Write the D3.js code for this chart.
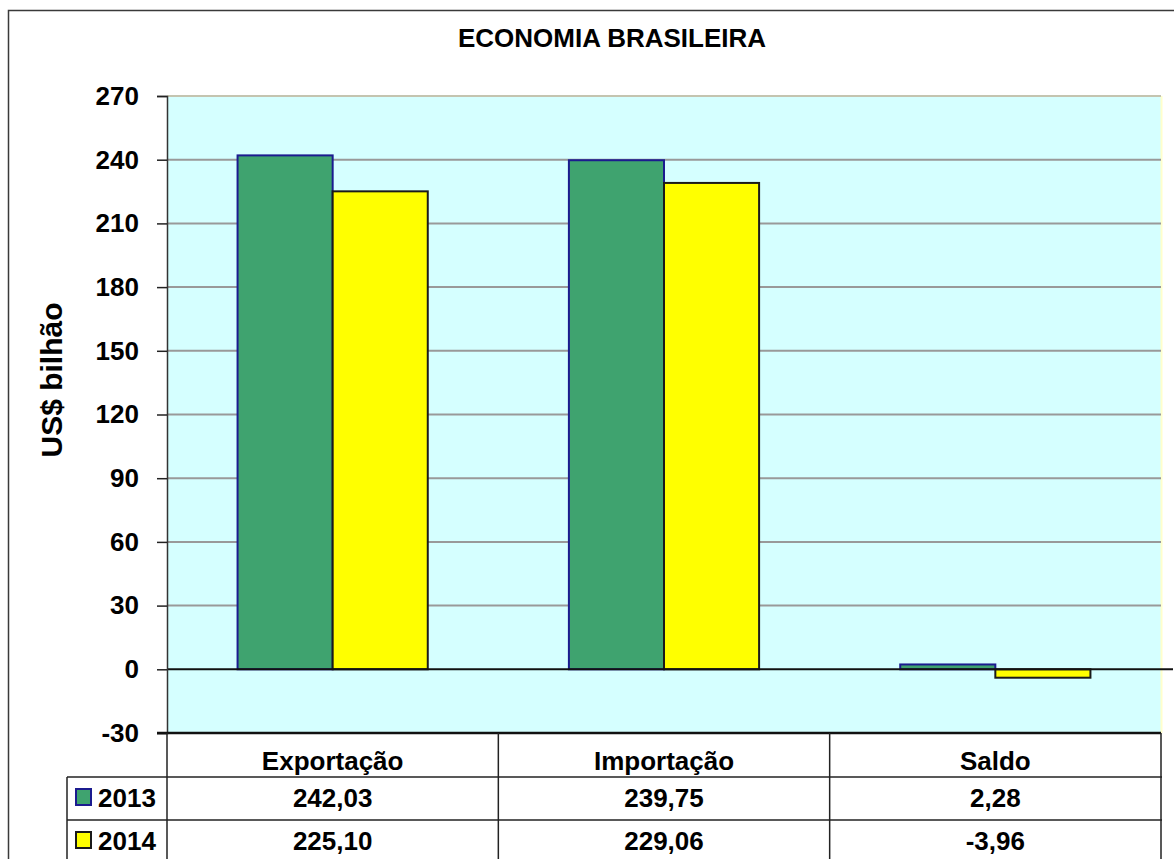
<!DOCTYPE html>
<html>
<head>
<meta charset="utf-8">
<script src="https://cdn.jsdelivr.net/npm/d3@7"></script>
<style>
  body { margin: 0; background: #fff; }
  svg { display: block; }
  text { font-family: "Liberation Sans", Arial, sans-serif; font-weight: bold; fill: #000; }
</style>
</head>
<body>
<div id="chart"></div>
<script>
// data
const categories = ['Exportação', 'Importação', 'Saldo'];
const years = ['2013', '2014'];
const values_2013 = [242.03, 239.75, 2.28];
const values_2014 = [225.10, 229.06, -3.96];
const labels_2013 = ['242,03', '239,75', '2,28'];
const labels_2014 = ['225,10', '229,06', '-3,96'];
const y_ticks = [-30, 0, 30, 60, 90, 120, 150, 180, 210, 240, 270];

const width = 1174;
const height = 859;

const plot = {left: 167, right: 1161, top: 96, bottom: 733};

const fills = {'2013': '#3fa36f', '2014': '#ffff00'};
const strokes = {'2013': '#1b1b8f', '2014': '#1a1a1a'};

const svg = d3.select('#chart')
    .append('svg')
    .attr('width', width)
    .attr('height', height);

// outer frame (runs past the window on right/bottom)
svg.append('rect')
    .attr('x', 8.5).attr('y', 10.5)
    .attr('width', 1300).attr('height', 1000)
    .attr('fill', 'none')
    .attr('stroke', '#3a3a3a')
    .attr('stroke-width', 1.5);

// scales
const x_scale = d3.scaleBand()
    .domain(categories)
    .range([plot.left, plot.right]);

const x_inner = d3.scaleBand()
    .domain(years)
    .range([0, x_scale.bandwidth()])
    .paddingInner(0)
    .paddingOuter(0.742);

const y_scale = d3.scaleLinear()
    .domain([-30, 270])
    .range([plot.bottom, plot.top]);

// plot background
svg.append('rect')
    .attr('x', plot.left).attr('y', plot.top)
    .attr('width', plot.right - plot.left)
    .attr('height', plot.bottom - plot.top)
    .attr('fill', '#d5ffff');

// right edge tint
svg.append('line')
    .attr('x1', plot.right + 0.5).attr('x2', plot.right + 0.5)
    .attr('y1', plot.top).attr('y2', plot.bottom)
    .attr('stroke', '#ffffcc').attr('stroke-width', 2);

// gridlines
svg.append('g')
    .selectAll('line')
    .data(y_ticks.filter(d => d > 0))
    .enter()
    .append('line')
    .attr('x1', plot.left).attr('x2', plot.right)
    .attr('y1', d => y_scale(d)).attr('y2', d => y_scale(d))
    .attr('stroke', d => d === 270 ? '#c4c4b0' : '#999999')
    .attr('stroke-width', 2);

// bars
const series = [
    {year: '2013', values: values_2013},
    {year: '2014', values: values_2014}
];

svg.append('g')
    .selectAll('g')
    .data(series)
    .enter()
    .append('g')
    .attr('fill', d => fills[d.year])
    .attr('stroke', d => strokes[d.year])
    .attr('stroke-width', 2)
    .selectAll('rect')
    .data(d => d.values.map((v, i) => ({year: d.year, cat: categories[i], value: v})))
    .enter()
    .append('rect')
    .attr('x', d => x_scale(d.cat) + x_inner(d.year))
    .attr('width', x_inner.bandwidth())
    .attr('y', d => y_scale(Math.max(0, d.value)))
    .attr('height', d => Math.abs(y_scale(d.value) - y_scale(0)));

// zero line
svg.append('line')
    .attr('x1', plot.left).attr('x2', plot.right + 12)
    .attr('y1', y_scale(0)).attr('y2', y_scale(0))
    .attr('stroke', '#111').attr('stroke-width', 2);

// y axis
const y_axis = svg.append('g')
    .attr('transform', `translate(${plot.left}, 0)`)
    .call(d3.axisLeft(y_scale).tickValues(y_ticks).tickFormat(d => String(d)).tickSize(10).tickPadding(18));

y_axis.select('.domain').attr('stroke', '#333').attr('stroke-width', 1.5);
y_axis.selectAll('.tick line').attr('stroke', '#222').attr('stroke-width', 1.5);
y_axis.selectAll('text')
    .attr('font-size', 26)
    .attr('font-family', '"Liberation Sans", Arial, sans-serif')
    .attr('font-weight', 'bold')
    .attr('fill', '#000');

// bottom line of plot
svg.append('line')
    .attr('x1', plot.left - 10).attr('x2', plot.right)
    .attr('y1', plot.bottom).attr('y2', plot.bottom)
    .attr('stroke', '#111').attr('stroke-width', 2.5);

// title
svg.append('text')
    .attr('x', 612).attr('y', 47)
    .attr('text-anchor', 'middle')
    .attr('font-size', 26)
    .text('ECONOMIA BRASILEIRA');

// y label
svg.append('g')
    .attr('transform', `translate(62, 380)`)
    .append('text')
    .attr('transform', 'rotate(-90)')
    .attr('text-anchor', 'middle')
    .attr('font-size', 30)
    .text('US$ bilhão');

// data table
const row_lines = [777, 820];
const table = svg.append('g').attr('stroke', '#222').attr('stroke-width', 1.5);

row_lines.forEach(y => {
    table.append('line')
        .attr('x1', 67).attr('x2', plot.right + 1)
        .attr('y1', y).attr('y2', y);
});

// column separators
const col_edges = categories.map(c => x_scale(c)).concat([plot.right]);
col_edges.forEach(x => {
    table.append('line')
        .attr('x1', x).attr('x2', x)
        .attr('y1', plot.bottom).attr('y2', height);
});
table.append('line')
    .attr('x1', 67).attr('x2', 67)
    .attr('y1', 777).attr('y2', height);

// header
svg.append('g')
    .selectAll('text')
    .data(categories)
    .enter()
    .append('text')
    .attr('x', d => x_scale(d) + x_scale.bandwidth() / 2)
    .attr('y', 770)
    .attr('text-anchor', 'middle')
    .attr('font-size', 26)
    .text(d => d);

const rows = [
    {year: '2013', labels: labels_2013, y: 807},
    {year: '2014', labels: labels_2014, y: 850}
];

rows.forEach(r => {
    svg.append('g')
        .selectAll('text')
        .data(r.labels)
        .enter()
        .append('text')
        .attr('x', (d, i) => x_scale(categories[i]) + x_scale.bandwidth() / 2)
        .attr('y', r.y)
        .attr('text-anchor', 'middle')
        .attr('font-size', 26)
        .text(d => d);

    // legend key
    svg.append('rect')
        .attr('x', 76).attr('y', r.y - 18)
        .attr('width', 15).attr('height', 16)
        .attr('fill', fills[r.year])
        .attr('stroke', strokes[r.year])
        .attr('stroke-width', 2);

    svg.append('text')
        .attr('x', 98).attr('y', r.y)
        .attr('font-size', 26)
        .text(r.year);
});
</script>
</body>
</html>
